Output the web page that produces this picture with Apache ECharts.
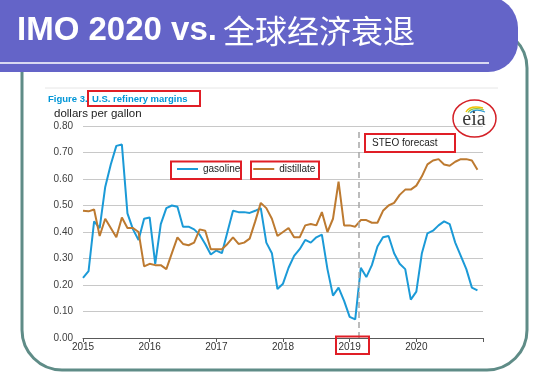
<!DOCTYPE html>
<html><head><meta charset="utf-8">
<script src="https://cdn.jsdelivr.net/npm/echarts@6/dist/echarts.min.js"></script>
<style>html,body{margin:0;padding:0;background:#fff}#c{width:554px;height:390px}</style>
</head><body><div id="c"></div>
<script>
// x tick labels (Jan of each year); months are indexed from Jan 2015 (0) to Dec 2020 (71)
const yearLabels = ['2015', '2016', '2017', '2018', '2019', '2020'];
const seriesNames = ['gasoline', 'distillate'];
// U.S. refinery margins, dollars per gallon, monthly Jan 2015 - Dec 2020
const gasoline = [
  0.227, 0.252, 0.44, 0.415, 0.57, 0.655, 0.725, 0.73, 0.47, 0.41, 0.37, 0.45,
  0.455, 0.28, 0.43, 0.49, 0.50, 0.495, 0.42, 0.42, 0.41, 0.39, 0.355, 0.315,
  0.33, 0.32, 0.40, 0.48, 0.475, 0.475, 0.472, 0.48, 0.49, 0.36, 0.32, 0.185,
  0.205, 0.265, 0.31, 0.335, 0.37, 0.36, 0.38, 0.39, 0.26, 0.16, 0.19, 0.14,
  0.08, 0.07, 0.265, 0.23, 0.275, 0.345, 0.38, 0.385, 0.32, 0.28, 0.26, 0.145,
  0.175, 0.32, 0.395, 0.405, 0.425, 0.44, 0.43, 0.36, 0.31, 0.26, 0.19, 0.18
];
const distillate = [
  0.48, 0.478, 0.485, 0.385, 0.45, 0.415, 0.38, 0.455, 0.415, 0.415, 0.40, 0.27,
  0.28, 0.275, 0.275, 0.26, 0.32, 0.38, 0.355, 0.35, 0.36, 0.41, 0.405, 0.335,
  0.335, 0.335, 0.355, 0.38, 0.355, 0.36, 0.375, 0.44, 0.51, 0.49, 0.45, 0.385,
  0.40, 0.415, 0.38, 0.38, 0.425, 0.43, 0.425, 0.475, 0.40, 0.45, 0.59, 0.425,
  0.425, 0.42, 0.445, 0.445, 0.435, 0.435, 0.48, 0.50, 0.51, 0.54, 0.56, 0.56,
  0.575, 0.61, 0.655, 0.67, 0.675, 0.655, 0.65, 0.665, 0.675, 0.675, 0.67, 0.635
];
const yMin = 0, yMax = 0.8, yStep = 0.1;
const forecastStart = 49.7; // month index where STEO forecast begins

const SANS = "'Liberation Sans', Arial, sans-serif";
const RED = '#E01E26';
const chart = echarts.init(document.getElementById('c'), null, {renderer: 'canvas'});

function box(x, y, w, h) {
  return {type: 'rect', shape: {x: x, y: y, width: w, height: h},
    style: {fill: 'none', stroke: RED, lineWidth: 2}, z: 100};
}

chart.setOption({
  animation: false,
  backgroundColor: '#ffffff',
  grid: {left: 83, right: 71, top: 126, bottom: 52, containLabel: false},
  legend: {
    data: seriesNames, left: 177, top: 164, padding: 0, itemWidth: 21, itemHeight: 2, itemGap: 13,
    icon: 'rect', textStyle: {fontFamily: SANS, fontSize: 10, color: '#222'}
  },
  xAxis: {
    type: 'value', min: 0, max: 72, interval: 12,
    axisLine: {show: true, lineStyle: {color: '#595959', width: 1}},
    axisTick: {show: true, length: 4, lineStyle: {color: '#595959'}},
    splitLine: {show: false},
    axisLabel: {margin: 4, fontFamily: SANS, fontSize: 10, color: '#333',
      formatter: v => yearLabels[v / 12] || ''}
  },
  yAxis: {
    type: 'value', min: yMin, max: yMax, interval: yStep,
    axisLine: {show: false}, axisTick: {show: false},
    splitLine: {lineStyle: {color: '#C8C8C8', width: 1}},
    axisLabel: {margin: 10, fontFamily: SANS, fontSize: 10, color: '#404040',
      formatter: v => v.toFixed(2)}
  },
  series: [
    {name: seriesNames[0], type: 'line', showSymbol: false, symbol: 'none',
     lineStyle: {color: '#1B9AD7', width: 2}, itemStyle: {color: '#1B9AD7'},
     data: gasoline.map((v, i) => [i, v]),
     markLine: {silent: true, symbol: ['none', 'none'], label: {show: false},
       lineStyle: {color: '#A6A6A6', type: [6, 4], width: 1.5},
       data: [[{xAxis: forecastStart, yAxis: 0}, {xAxis: forecastStart, yAxis: 0.785}]]}},
    {name: seriesNames[1], type: 'line', showSymbol: false, symbol: 'none',
     lineStyle: {color: '#BD7A30', width: 2}, itemStyle: {color: '#BD7A30'},
     data: distillate.map((v, i) => [i, v])}
  ],
  graphic: [
    // slide frame
    {type: 'rect', shape: {x: 22, y: 28, width: 505, height: 342, r: 40},
     style: {fill: 'none', stroke: '#5F8C87', lineWidth: 3}, z: 1},
    // header banner
    {type: 'rect', shape: {x: -20, y: -4, width: 538, height: 76, r: [0, 32, 30, 0]},
     style: {fill: '#6464C8'}, z: 2},
    {type: 'line', shape: {x1: 0, y1: 63, x2: 489, y2: 63},
     style: {stroke: '#ffffff', lineWidth: 1.5}, z: 3},
    {type: 'text', x: 17, y: 31, z: 4,
     style: {text: 'IMO 2020 vs.', fill: '#fff', font: "bold 33px 'Liberation Sans', Arial, sans-serif", verticalAlign: 'middle'}},
    {type: 'text', x: 223, y: 31, z: 4,
     style: {text: '全球经济衰退', fill: '#fff', font: "32px 'Noto Sans CJK SC', sans-serif", verticalAlign: 'middle'}},
    // figure header
    {type: 'line', shape: {x1: 45, y1: 88, x2: 498, y2: 88},
     style: {stroke: '#E6E6E6', lineWidth: 1}, z: 3},
    {type: 'text', x: 48, y: 99, z: 5,
     style: {text: 'Figure 3.', fill: '#0096D7', font: "bold 9.5px 'Liberation Sans', Arial, sans-serif", verticalAlign: 'middle'}},
    {type: 'text', x: 92, y: 99, z: 5,
     style: {text: 'U.S. refinery margins', fill: '#0096D7', font: "bold 9.5px 'Liberation Sans', Arial, sans-serif", verticalAlign: 'middle'}},
    box(88, 91, 112, 15),
    {type: 'text', x: 54, y: 114, z: 5,
     style: {text: 'dollars per gallon', fill: '#222', font: "11.5px 'Liberation Sans', Arial, sans-serif", verticalAlign: 'middle'}},
    // eia logo
    {type: 'ellipse', shape: {cx: 474.5, cy: 118.5, rx: 21.5, ry: 18.5},
     style: {fill: 'none', stroke: '#D42027', lineWidth: 1.5}, z: 5},
    {type: 'bezierCurve', shape: {x1: 466, y1: 112, cpx1: 470, cpy1: 105, x2: 483, y2: 108},
     style: {stroke: '#F2C200', lineWidth: 1.5, fill: 'none'}, z: 5},
    {type: 'bezierCurve', shape: {x1: 468, y1: 112.5, cpx1: 472, cpy1: 106.5, x2: 484, y2: 110},
     style: {stroke: '#8DC63F', lineWidth: 1.2, fill: 'none'}, z: 5},
    {type: 'bezierCurve', shape: {x1: 470, y1: 113, cpx1: 475, cpy1: 108, x2: 485, y2: 112},
     style: {stroke: '#2E9BD6', lineWidth: 1.2, fill: 'none'}, z: 5},
    {type: 'text', x: 474, y: 120, z: 6,
     style: {text: 'eia', fill: '#3A3A3A', font: "20px 'Liberation Serif', 'DejaVu Serif', serif", align: 'center', verticalAlign: 'middle'}},
    // STEO forecast
    {type: 'text', x: 372, y: 143, z: 5,
     style: {text: 'STEO forecast', fill: '#222', font: "10px 'Liberation Sans', Arial, sans-serif", verticalAlign: 'middle'}},
    box(365, 134, 90, 18),
    // legend boxes
    box(171, 161.5, 70, 17.5),
    box(251, 161.5, 68, 17.5),
    // 2019 box
    box(336, 336.5, 33, 17.5)
  ]
});
</script>
</body></html>
